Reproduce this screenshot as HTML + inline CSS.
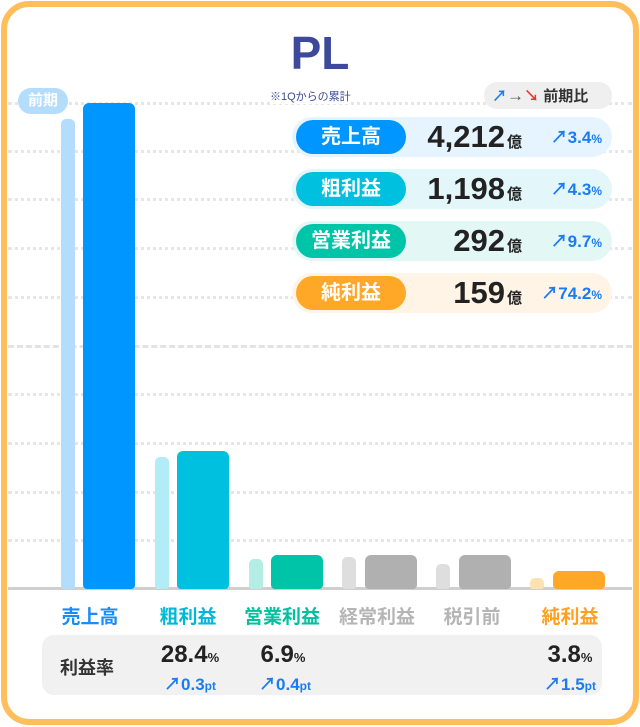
<!DOCTYPE html><html><head><meta charset="utf-8"><style>
*{margin:0;padding:0;box-sizing:border-box}
body{width:640px;height:727px;background:#fff;font-family:"Liberation Sans","Noto Sans CJK JP",sans-serif;position:relative;overflow:hidden}
.frame{position:absolute;left:1px;top:1px;width:638px;height:724px;border:6px solid #ffbe5c;border-radius:28px}
.a{position:absolute}
.g{position:absolute;left:8px;width:624px;height:0;border-top:3px dotted #e6e6e6}
.bar{position:absolute;border-radius:6px 6px 4px 4px}
.pb{position:absolute;border-radius:5px 5px 3px 3px}
.row{position:absolute;left:292px;width:320px;height:40px;border-radius:20px}
.pill{position:absolute;left:4px;top:3px;width:110px;height:34px;border-radius:17px;color:#fff;font-weight:bold;font-size:20px;text-align:center;line-height:34px}
.num{position:absolute;right:90px;top:0;line-height:40px;font-size:31px;font-weight:bold;color:#222;letter-spacing:0}
.oku{font-size:15px;margin-left:2px}
.pct{position:absolute;right:10px;top:0;line-height:42px;font-size:17px;font-weight:bold;color:#1a7cf0}
.pct small{font-size:12px}
.lab{position:absolute;top:602px;font-size:19px;font-weight:bold;text-align:center;width:100px}
</style></head><body>
<div class="frame"></div>
<div class="g" style="top:102px"></div><div class="g" style="top:150px"></div><div class="g" style="top:198px"></div><div class="g" style="top:247px"></div><div class="g" style="top:296px"></div>
<div class="g" style="top:345px;border-top:3px dashed #e3e3e3"></div>
<div class="g" style="top:393px"></div><div class="g" style="top:442px"></div><div class="g" style="top:491px"></div><div class="g" style="top:539px"></div>
<div class="a" style="left:8px;top:587px;width:624px;height:3px;background:#cfcfcf"></div>
<div class="a" style="left:0;width:640px;top:26px;text-align:center;font-size:46px;font-weight:bold;color:#3d4a9a;line-height:54px">PL</div>
<div class="a" style="left:270px;top:88px;font-size:11px;color:#3d4a9a;background:#fff">※1Qからの累計</div>
<div class="a" style="left:18px;top:88px;width:50px;height:26px;border-radius:13px;background:#b3dcfd;color:#fff;font-weight:bold;font-size:15px;text-align:center;line-height:26px">前期</div>
<div class="pb" style="left:61px;top:119px;width:14px;height:470px;background:#b3dcfd"></div>
<div class="bar" style="left:83px;top:103px;width:52px;height:486px;background:#0096ff"></div>
<div class="pb" style="left:155px;top:457px;width:14px;height:132px;background:#b2ecf6"></div>
<div class="bar" style="left:177px;top:451px;width:52px;height:138px;background:#00c0e0"></div>
<div class="pb" style="left:249px;top:559px;width:14px;height:30px;background:#b3ede4"></div>
<div class="bar" style="left:271px;top:555px;width:52px;height:34px;background:#00c4a8"></div>
<div class="pb" style="left:342px;top:557px;width:14px;height:32px;background:#dedede"></div>
<div class="bar" style="left:365px;top:555px;width:52px;height:34px;background:#b0b0b0"></div>
<div class="pb" style="left:436px;top:564px;width:14px;height:25px;background:#dedede"></div>
<div class="bar" style="left:459px;top:555px;width:52px;height:34px;background:#b0b0b0"></div>
<div class="pb" style="left:530px;top:578px;width:14px;height:11px;background:#ffe0b0"></div>
<div class="bar" style="left:553px;top:571px;width:52px;height:18px;background:#ffa726"></div>
<div class="a" style="left:484px;top:82px;width:128px;height:27px;border-radius:13px;background:#efefef;font-size:15px;font-weight:bold;line-height:27px;padding-left:8px;color:#333;white-space:nowrap"><span style="color:#1a7cf0">↗</span><span style="color:#555;font-size:17px">→</span><span style="color:#f03030">↘</span> 前期比</div>
<div class="row" style="top:117px;background:#e6f4ff"><div class="pill" style="background:#0096ff">売上高</div><div class="num">4,212<span class="oku">億</span></div><div class="pct">↗3.4<small>%</small></div></div>
<div class="row" style="top:169px;background:#e3f7fb"><div class="pill" style="background:#00c0e0">粗利益</div><div class="num">1,198<span class="oku">億</span></div><div class="pct">↗4.3<small>%</small></div></div>
<div class="row" style="top:221px;background:#e3f7f4"><div class="pill" style="background:#00c4a8">営業利益</div><div class="num">292<span class="oku">億</span></div><div class="pct">↗9.7<small>%</small></div></div>
<div class="row" style="top:273px;background:#fff4e6"><div class="pill" style="background:#ffa726">純利益</div><div class="num">159<span class="oku">億</span></div><div class="pct">↗74.2<small>%</small></div></div>
<div class="lab" style="left:40px;color:#1a8cf5">売上高</div>
<div class="lab" style="left:138px;color:#00b8d8">粗利益</div>
<div class="lab" style="left:232px;color:#00c0a0">営業利益</div>
<div class="lab" style="left:327px;color:#b5b5b5">経常利益</div>
<div class="lab" style="left:422px;color:#b5b5b5">税引前</div>
<div class="lab" style="left:520px;color:#ffa020">純利益</div>
<div class="a" style="left:42px;top:635px;width:560px;height:60px;border-radius:12px;background:#f1f1f1"></div>
<div class="a" style="left:60px;top:654px;font-size:18px;font-weight:bold;color:#333">利益率</div>
<div class="a" style="left:145px;top:641px;width:90px;text-align:center;font-size:24px;font-weight:bold;color:#222">28.4<small style="font-size:13px">%</small></div>
<div class="a" style="left:150px;top:670px;width:80px;text-align:center;font-size:17px;font-weight:bold;color:#1a7cf0">↗0.3<small style="font-size:12px">pt</small></div>
<div class="a" style="left:243px;top:641px;width:80px;text-align:center;font-size:24px;font-weight:bold;color:#222">6.9<small style="font-size:13px">%</small></div>
<div class="a" style="left:245px;top:670px;width:80px;text-align:center;font-size:17px;font-weight:bold;color:#1a7cf0">↗0.4<small style="font-size:12px">pt</small></div>
<div class="a" style="left:532px;top:641px;width:76px;text-align:center;font-size:24px;font-weight:bold;color:#222">3.8<small style="font-size:13px">%</small></div>
<div class="a" style="left:528px;top:670px;width:84px;text-align:center;font-size:17px;font-weight:bold;color:#1a7cf0">↗1.5<small style="font-size:12px">pt</small></div>
</body></html>
